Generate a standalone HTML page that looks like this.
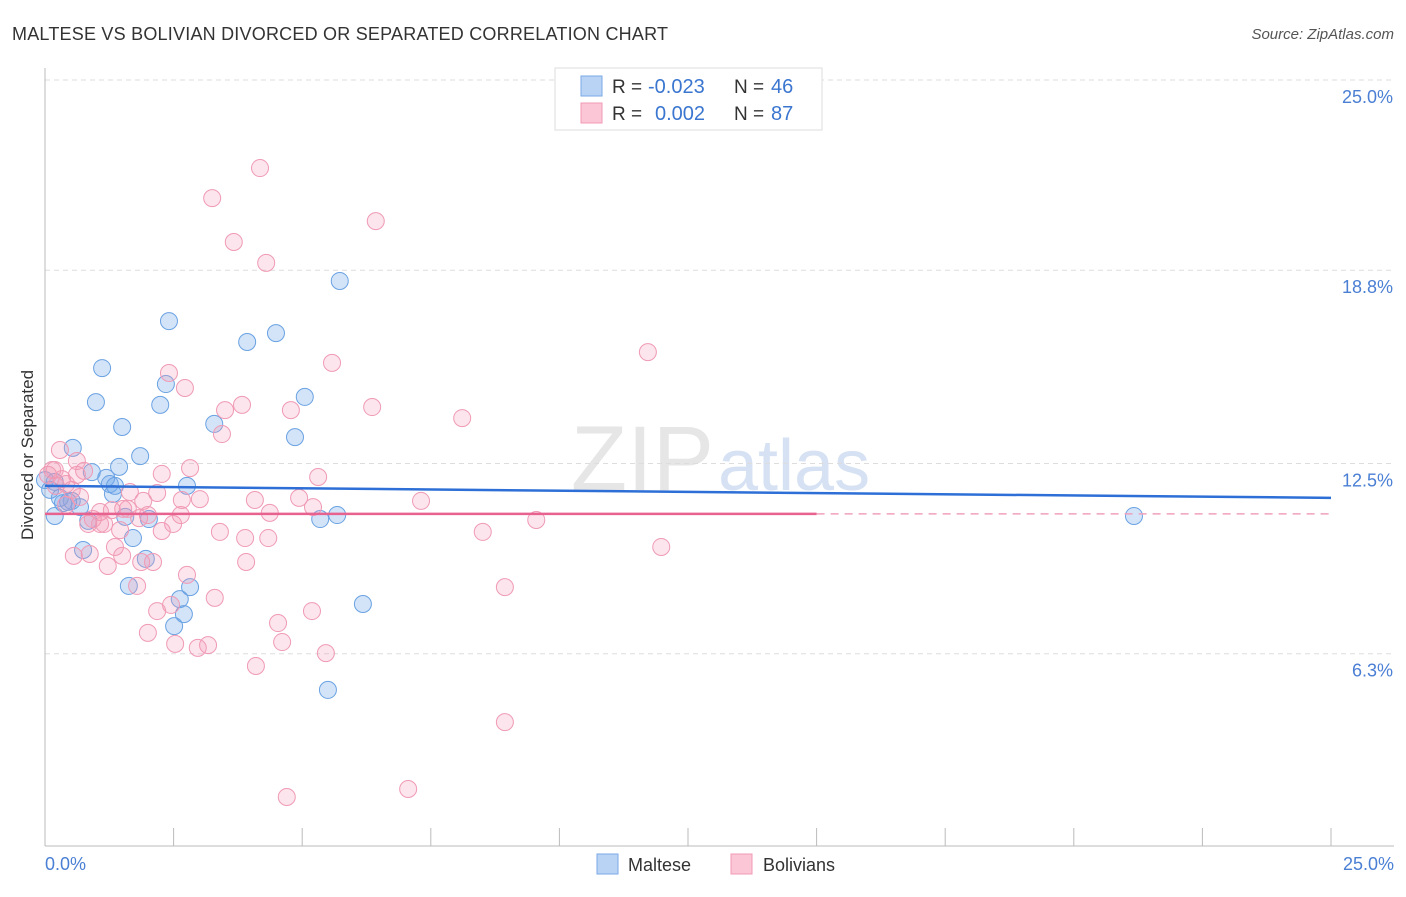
<!DOCTYPE html>
<html><head><meta charset="utf-8"><style>
body{margin:0;background:#fff;font-family:"Liberation Sans",sans-serif;}
svg text{font-family:"Liberation Sans",sans-serif;}
</style></head><body>
<svg width="1406" height="892" id="chart">
<text x="12" y="40" font-size="18" fill="#333" textLength="656">MALTESE VS BOLIVIAN DIVORCED OR SEPARATED CORRELATION CHART</text>
<text x="1394" y="39" font-size="15" fill="#555" text-anchor="end" font-style="italic">Source: ZipAtlas.com</text>
<text x="714" y="490" font-size="92" fill="#e6e6e6" text-anchor="end" font-family="Liberation Serif">ZIP</text>
<text x="718" y="490" font-size="72" fill="#d6e2f3">atlas</text>
<g id="grid"></g>
<line x1="45" y1="68" x2="45" y2="846" stroke="#bbb"/>
<line x1="45" y1="846" x2="1394" y2="846" stroke="#bbb"/>
<g id="xticks"></g>
<text x="33" y="455" font-size="17" fill="#333" text-anchor="middle" transform="rotate(-90 33 455)">Divorced or Separated</text>
<text x="45" y="870" font-size="18" fill="#4a7fd4">0.0%</text>
<text x="1394" y="870" font-size="18" fill="#4a7fd4" text-anchor="end">25.0%</text>
<g id="pts"></g>
<g id="trends"></g>
<g>
<rect x="555" y="68" width="267" height="62" fill="#fff" stroke="#ddd"/>
<rect x="581" y="76" width="21" height="20" fill="#b9d3f5" stroke="#7aa9e6"/>
<rect x="581" y="103" width="21" height="20" fill="#fbc7d6" stroke="#f09ab5"/>
<text x="612" y="93" font-size="19" fill="#333">R =</text>
<text x="648" y="93" font-size="20" fill="#3a76d0">-0.023</text>
<text x="734" y="93" font-size="19" fill="#333">N =</text>
<text x="771" y="93" font-size="20" fill="#3a76d0">46</text>
<text x="612" y="120" font-size="19" fill="#333">R =</text>
<text x="655" y="120" font-size="20" fill="#3a76d0">0.002</text>
<text x="734" y="120" font-size="19" fill="#333">N =</text>
<text x="771" y="120" font-size="20" fill="#3a76d0">87</text>
</g>
<g>
<rect x="597" y="854" width="21" height="20" fill="#b9d3f5" stroke="#7aa9e6"/>
<text x="628" y="871" font-size="18" fill="#333">Maltese</text>
<rect x="731" y="854" width="21" height="20" fill="#fbc7d6" stroke="#f09ab5"/>
<text x="763" y="871" font-size="18" fill="#333">Bolivians</text>
</g>
</svg>
<script>
const yTicks=[6.3,12.5,18.8,25.0];
const yTickLabels=["6.3%","12.5%","18.8%","25.0%"];
const xTickValues=[0,2.5,5,7.5,10,12.5,15,17.5,20,22.5,25];
const malteseX=[5.73,2.41,4.49,3.93,1.11,2.35,0.99,5.05,2.24,3.29,1.50,4.86,0.54,1.85,1.44,0.91,1.19,2.76,1.26,1.32,0.52,0.68,0.35,0.45,0.19,1.56,2.02,0.84,5.35,5.68,21.17,1.71,1.96,0.74,1.63,2.82,2.62,6.18,2.70,2.51,5.50,0,0.19,0.10,0.29,1.36];
const malteseY=[18.45,17.14,16.75,16.46,15.61,15.09,14.50,14.67,14.41,13.79,13.69,13.36,13.01,12.74,12.39,12.22,12.03,11.77,11.83,11.51,11.28,11.08,11.21,11.25,10.79,10.76,10.69,10.63,10.69,10.82,10.79,10.07,9.39,9.68,8.51,8.47,8.08,7.92,7.59,7.20,5.12,11.96,11.90,11.64,11.38,11.77];
const bolivianX=[4.18,3.25,6.43,3.67,4.30,11.72,5.58,2.41,2.72,6.36,3.50,3.83,4.78,8.11,3.44,0.29,2.82,5.31,2.27,0.76,0.62,0.14,0.41,0.21,1.65,2.18,3.01,1.91,2.66,4.08,4.94,7.31,5.21,1.52,4.37,1.07,1.30,2.64,0.93,2.00,1.15,0.84,2.49,2.27,1.46,3.40,8.51,9.55,3.89,4.34,1.36,11.98,0.56,0.87,1.50,3.91,1.22,1.87,2.10,2.76,1.79,8.94,3.30,2.18,2.45,5.19,4.53,2.00,2.53,3.17,2.97,4.61,5.46,4.10,8.94,4.70,7.06,0.19,0.06,0.33,0.52,0.68,1.61,0.41,1.83,1.07,0.62];
const bolivianY=[22.13,21.15,20.40,19.72,19.04,16.13,15.78,15.45,14.96,14.34,14.24,14.41,14.24,13.98,13.46,12.94,12.35,12.06,12.16,12.26,12.13,12.29,11.83,11.77,11.57,11.54,11.34,11.28,11.31,11.31,11.38,11.28,11.08,11.02,10.89,10.92,10.98,10.82,10.69,10.82,10.53,10.53,10.53,10.30,10.33,10.27,10.27,10.66,10.07,10.07,9.78,9.78,9.49,9.55,9.49,9.29,9.16,9.29,9.29,8.87,8.51,8.47,8.12,7.69,7.89,7.69,7.30,6.98,6.62,6.58,6.49,6.68,6.32,5.90,4.07,1.63,1.89,12.29,12.13,11.99,11.64,11.41,11.02,11.15,10.72,10.53,12.58];
const malteseTrend=[11.77,11.38];
const bolivianTrend=[10.86,10.86];
const bolivianSolidEnd=15;
const NS="http://www.w3.org/2000/svg";
const sx=v=>45+v*51.44, sy=v=>847-v*30.68;
function mk(parent,tag,attrs){const e=document.createElementNS(NS,tag);for(const k in attrs)e.setAttribute(k,attrs[k]);document.getElementById(parent).appendChild(e);return e;}
yTicks.forEach((t,i)=>{
 const l=mk('grid','line',{x1:45,x2:1394,y1:sy(t),y2:sy(t),stroke:'#ddd','stroke-dasharray':'5,4'});
 
 
 const tx=mk('grid','text',{x:1393,y:sy(t)+23,'font-size':18,fill:'#4a7fd4','text-anchor':'end'});
 tx.textContent=yTickLabels[i];
 
 
});
xTickValues.forEach(v=>{
 const l=mk('xticks','line',{x1:sx(v),x2:sx(v),y1:828,y2:846,stroke:'#bbb'});
 
 
});
malteseX.forEach((x,i)=>{
 const c=mk('pts','circle',{cx:sx(x),cy:sy(malteseY[i]),r:8.5,fill:'rgba(110,165,235,0.3)',stroke:'#6aa2e2','stroke-width':1});
 
 
});
bolivianX.forEach((x,i)=>{
 const c=mk('pts','circle',{cx:sx(x),cy:sy(bolivianY[i]),r:8.5,fill:'rgba(245,150,180,0.25)',stroke:'#f09ab5','stroke-width':1});
 
 
});
const bt=mk('trends','line',{x1:sx(0),x2:sx(25),y1:sy(malteseTrend[0]),y2:sy(malteseTrend[1]),stroke:'#2d6fd6','stroke-width':2.5});


const pm=bolivianTrend[0]+(bolivianTrend[1]-bolivianTrend[0])*bolivianSolidEnd/25;
const pt=mk('trends','line',{x1:sx(0),x2:sx(bolivianSolidEnd),y1:sy(bolivianTrend[0]),y2:sy(pm),stroke:'#e8628f','stroke-width':2.5});


const pd=mk('trends','line',{x1:sx(bolivianSolidEnd),x2:sx(25),y1:sy(pm),y2:sy(bolivianTrend[1]),stroke:'#f0a0bb','stroke-width':1.5,'stroke-dasharray':'8,6'});


</script>
</body></html>
